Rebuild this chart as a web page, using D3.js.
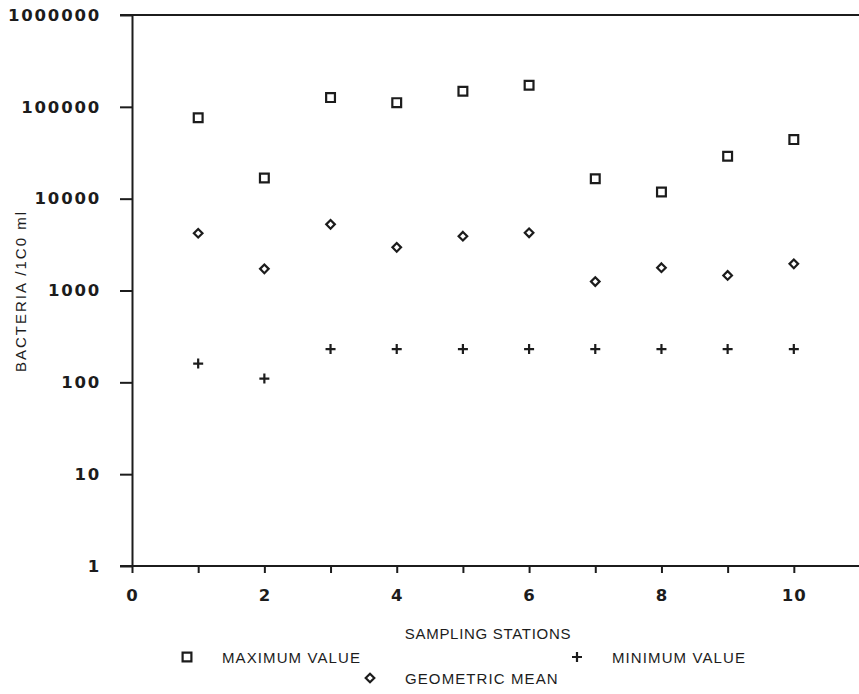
<!DOCTYPE html>
<meta charset="utf-8">
<style>

body { margin: 0; background: #fff; }

.axis path, .axis line {
  stroke: #1c1c1c;
  stroke-width: 2px;
}

.axis text {
  font-family: "DejaVu Sans", sans-serif;
  font-size: 16.5px;
  font-weight: bold;
  letter-spacing: 1.8px;
  fill: #1c1c1c;
}

.label {
  font-family: "Liberation Sans", Arial, sans-serif;
  font-size: 15px;
  letter-spacing: 0.7px;
  fill: #1c1c1c;
}

.mark {
  fill: none;
  stroke: #1c1c1c;
  stroke-width: 2.2px;
}

</style>
<body>

<script src="https://d3js.org/d3.v7.min.js"></script>
<script>

// stations 1..10 and readings (bacteria per 100 ml)
var stations = [1, 2, 3, 4, 5, 6, 7, 8, 9, 10];
var maxValue = [76000, 16800, 126000, 111000, 148000, 172000, 16500, 11800, 29000, 44000];
var geoMean  = [4200, 1720, 5250, 2950, 3900, 4250, 1250, 1770, 1460, 1950];
var minValue = [160, 110, 230, 230, 230, 230, 230, 230, 230, 230];

var yTicks = [1, 10, 100, 1000, 10000, 100000, 1000000];
var xTicks = [0, 1, 2, 3, 4, 5, 6, 7, 8, 9, 10];

// dimensions of the page
var width = 859,
    height = 694;

var svg = d3.select("body").append("svg")
    .attr("width", width)
    .attr("height", height);

// set the ranges
var x = d3.scaleLinear().domain([0, 11]).range([132, 860]);
var y = d3.scaleLog().domain([1, 1000000]).range([566, 15]);

// frame lines (top and bottom run across the whole width)
svg.append("line")
    .attr("x1", 120).attr("x2", 859)
    .attr("y1", y(1000000)).attr("y2", y(1000000))
    .attr("stroke", "#1c1c1c").attr("stroke-width", 2);
svg.append("line")
    .attr("x1", 120).attr("x2", 859)
    .attr("y1", y(1)).attr("y2", y(1))
    .attr("stroke", "#1c1c1c").attr("stroke-width", 2);

// Add the Y Axis
svg.append("g")
    .attr("class", "axis")
    .attr("transform", "translate(" + x(0) + ",0)")
    .call(d3.axisLeft(y)
        .tickValues(yTicks)
        .tickFormat(d3.format("d"))
        .tickSize(12)
        .tickSizeOuter(0)
        .tickPadding(19));

// Add the X Axis
var xAxis = svg.append("g")
    .attr("class", "axis")
    .attr("transform", "translate(0," + y(1) + ")")
    .call(d3.axisBottom(x)
        .tickValues(xTicks)
        .tickFormat(function(d) { return d % 2 == 0 ? d : ""; })
        .tickSize(7)
        .tickSizeOuter(0)
        .tickPadding(16));
xAxis.select(".domain").remove();
xAxis.selectAll(".tick text").style("letter-spacing", "1px");

// text label for the y axis
svg.append("text")
    .attr("class", "label")
    .attr("transform", "translate(26,291) rotate(-90)")
    .style("text-anchor", "middle")
    .style("letter-spacing", "2px")
    .text("BACTERIA  /1C0  ml");

// text label for the x axis
svg.append("text")
    .attr("class", "label")
    .attr("x", 488)
    .attr("y", 639)
    .style("text-anchor", "middle")
    .text("SAMPLING STATIONS");

// marker shapes
function squarePath(s) {
  return "M" + (-s) + "," + (-s) + "H" + s + "V" + s + "H" + (-s) + "Z";
}
function diamondPath(s) {
  return "M0," + (-s) + "L" + s + ",0L0," + s + "L" + (-s) + ",0Z";
}
function plusPath(s) {
  return "M" + (-s) + ",0H" + s + "M0," + (-s) + "V" + s;
}

var series = [
  {values: maxValue, path: squarePath(4.4), name: "MAXIMUM VALUE"},
  {values: geoMean,  path: diamondPath(4.3), name: "GEOMETRIC MEAN"},
  {values: minValue, path: plusPath(5), name: "MINIMUM VALUE"}
];

// Add the scatterplots
series.forEach(function(s) {
  svg.append("g").selectAll("path")
      .data(stations)
    .enter().append("path")
      .attr("class", "mark")
      .attr("d", s.path)
      .attr("transform", function(d, i) {
        return "translate(" + x(d) + "," + y(s.values[i]) + ")";
      });
});

// legend
var legendPos = [[187, 657], [370, 678], [577, 657]];
series.forEach(function(s, i) {
  var g = svg.append("g")
      .attr("transform", "translate(" + legendPos[i][0] + "," + legendPos[i][1] + ")");
  g.append("path")
      .attr("class", "mark")
      .attr("d", s.path)
      .attr("stroke-width", 1.8);
  g.append("text")
      .attr("class", "label")
      .attr("x", 35)
      .attr("y", 5.5)
      .style("letter-spacing", "1.1px")
      .text(s.name);
});

</script>
</body>
